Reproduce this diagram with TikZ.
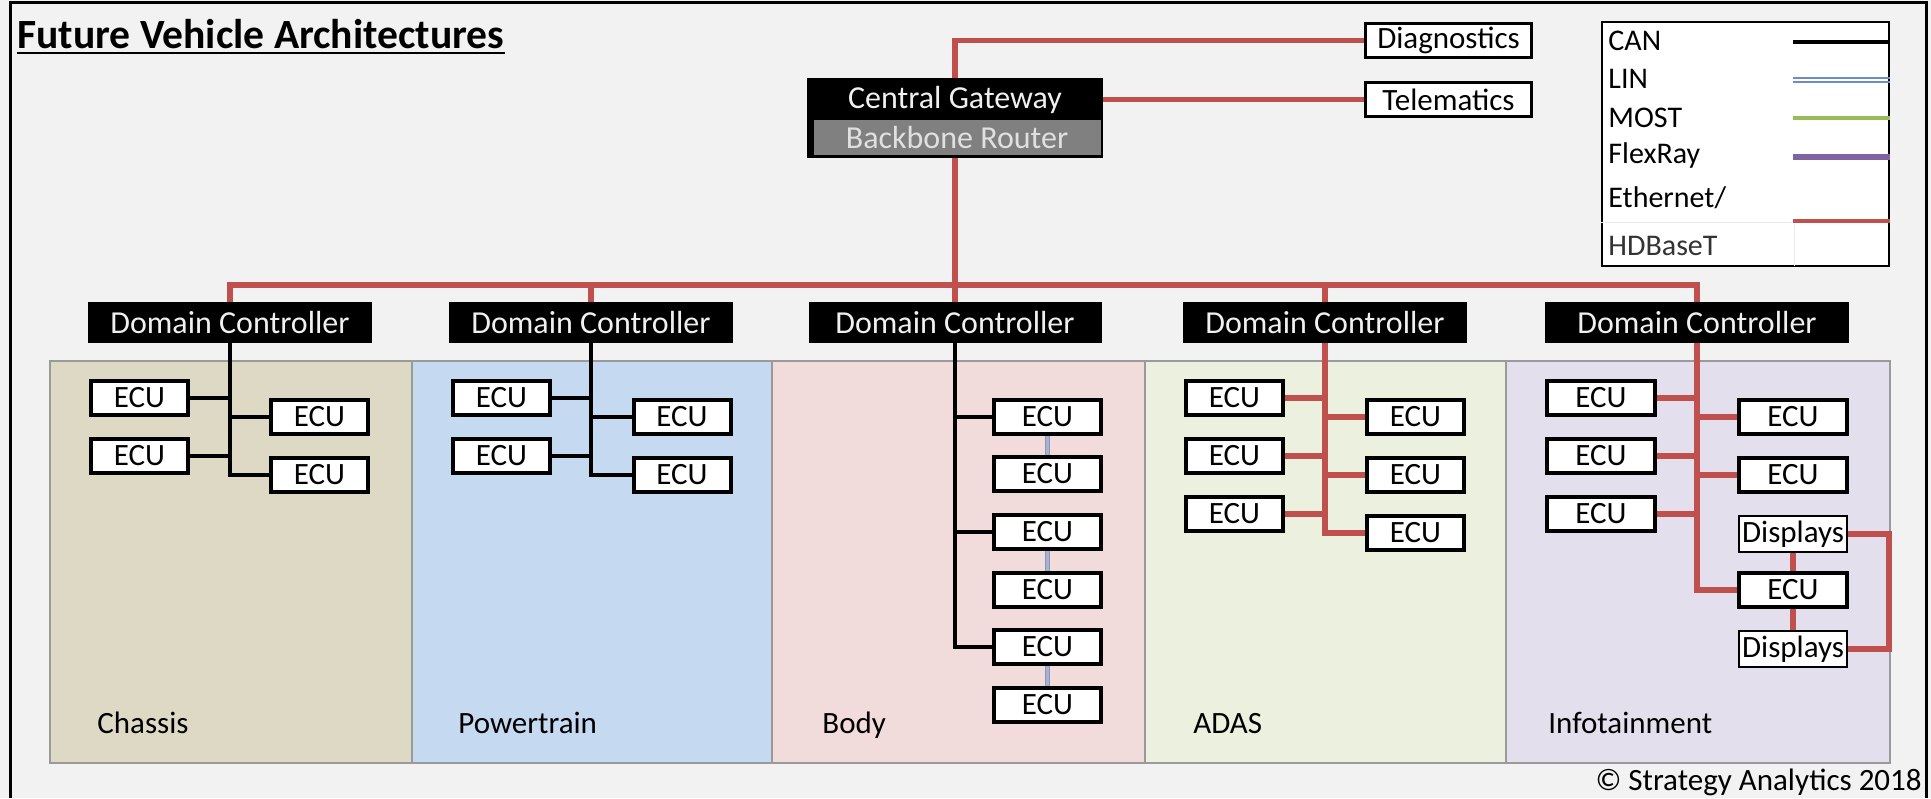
\documentclass[tikz,border=0pt]{standalone}
\usepackage{fontspec}
\setmainfont{Carlito}
\definecolor{sheet}{HTML}{F2F2F2}
\definecolor{ethred}{HTML}{C0504D}
\definecolor{mostgreen}{HTML}{9BBB59}
\definecolor{frpurple}{HTML}{8064A2}
\definecolor{linblue}{HTML}{6F8BBF}
\definecolor{linband}{HTML}{A7B2D2}
\definecolor{panelline}{HTML}{9A9A9A}
\definecolor{chassiscol}{HTML}{DDD9C4}
\definecolor{ptcol}{HTML}{C5D9F1}
\definecolor{bodycol}{HTML}{F2DCDB}
\definecolor{adascol}{HTML}{EBF1DE}
\definecolor{infocol}{HTML}{E4DFEC}
\definecolor{routergrey}{HTML}{808080}
\pgfdeclarelayer{sheetlayer}
\pgfdeclarelayer{panels}
\pgfdeclarelayer{wires}
\pgfsetlayers{sheetlayer,panels,wires,main}
\begin{document}
\begin{tikzpicture}[x=0.5pt,y=-0.5pt,
  txt/.style={font=\fontsize{15.5}{18}\selectfont},
  bigtxt/.style={font=\fontsize{16}{19}\selectfont},
  ecu/.style={txt, draw=black, line width=2pt, fill=white, minimum width=48.5pt, minimum height=17pt, inner sep=0pt},
  ecuw/.style={ecu, minimum width=54pt},
  disp/.style={txt, draw=black, line width=1.2pt, fill=white, minimum width=54pt, minimum height=17.8pt, inner sep=0pt},
  dom/.style={bigtxt, fill=black, text=white!94!black, minimum width=142pt, minimum height=20.5pt, inner sep=0pt},
  extbox/.style={txt, draw=black, line width=1.5pt, fill=white, minimum width=83pt, minimum height=17pt, inner sep=0pt},
  panel/.style={draw=panelline, line width=1pt},
  can/.style={draw=black, line width=1.6pt},
  eth/.style={draw=ethred, line width=2.6pt},
  lin/.style={draw=linband!85!black, line width=0.6pt, double=linband, double distance=1.4pt},
  lbl/.style={txt, anchor=base west, inner sep=0pt},
  legtxt/.style={txt, anchor=base west, inner sep=0pt, font=\fontsize{15}{18}\selectfont}]

\useasboundingbox (0,0) rectangle (1931,798);
\begin{pgfonlayer}{sheetlayer}
  \fill[sheet] (0,0) rectangle (1931,798);
\end{pgfonlayer}
\draw[line width=1.5pt] (10,798) -- (10,2) -- (1926,2) -- (1926,798);

% title
\node[anchor=base west, inner sep=0pt, font=\fontsize{20.8}{24}\selectfont\bfseries] (title) at (17,48) {Future Vehicle Architectures};
\draw[line width=1pt] ([yshift=-2.5pt]title.base west) -- ([yshift=-2.5pt]title.base east);

% domain panels
\begin{pgfonlayer}{panels}
  \filldraw[panel, fill=chassiscol] (50,361) rectangle (412,763);
  \filldraw[panel, fill=ptcol] (412,361) rectangle (772,763);
  \filldraw[panel, fill=bodycol] (772,361) rectangle (1145,763);
  \filldraw[panel, fill=adascol] (1145,361) rectangle (1506,763);
  \filldraw[panel, fill=infocol] (1506,361) rectangle (1890,763);
\end{pgfonlayer}
\node[lbl] (lchassis) at (97,733) {Chassis};
\node[lbl] (lpt) at (458,733) {Powertrain};
\node[lbl] (lbody) at (822,733) {Body};
\node[lbl] (ladas) at (1193,733) {ADAS};
\node[lbl] (linfo) at (1548,733) {Infotainment};

% gateway and external units
\node[fill=black, minimum width=148pt, minimum height=40pt, inner sep=0pt] (gw) at (955,118) {};
\node[bigtxt, fill=routergrey, text=white!88!black, minimum width=143.5pt, minimum height=17.5pt, inner sep=0pt] (router) at (957,137.5) {Backbone Router};
\node[bigtxt, text=white!94!black, inner sep=0pt] (gwname) at (955,100) {Central Gateway};
\node[extbox] (diag) at (1448.5,40.5) {Diagnostics};
\node[extbox] (tele) at (1448.5,99.5) {Telematics};

% domain controllers
\node[dom] (dc1) at (230,322.5) {Domain Controller};
\node[dom] (dc2) at (591,322.5) {Domain Controller};
\node[dom, minimum width=146.5pt] (dc3) at (955,322.5) {Domain Controller};
\node[dom] (dc4) at (1325,322.5) {Domain Controller};
\node[dom, minimum width=152pt] (dc5) at (1697,322.5) {Domain Controller};
\coordinate (bus) at (955,285);

% chassis
\node[ecu] (ch1) at (139.5,398) {ECU};
\node[ecu] (ch2) at (139.5,456) {ECU};
\node[ecu] (ch3) at (319.5,417) {ECU};
\node[ecu] (ch4) at (319.5,475) {ECU};
% powertrain
\node[ecu] (pt1) at (501.5,398) {ECU};
\node[ecu] (pt2) at (501.5,456) {ECU};
\node[ecu] (pt3) at (682,417) {ECU};
\node[ecu] (pt4) at (682,475) {ECU};
% body
\node[ecu, minimum width=53.5pt] (bd1) at (1047.5,417) {ECU};
\node[ecu, minimum width=53.5pt] (bd2) at (1047.5,474) {ECU};
\node[ecu, minimum width=53.5pt] (bd3) at (1047.5,532) {ECU};
\node[ecu, minimum width=53.5pt] (bd4) at (1047.5,590) {ECU};
\node[ecu, minimum width=53.5pt] (bd5) at (1047.5,647) {ECU};
\node[ecu, minimum width=53.5pt] (bd6) at (1047.5,705) {ECU};
% adas
\node[ecu] (ad1) at (1234.5,398) {ECU};
\node[ecu] (ad2) at (1234.5,456) {ECU};
\node[ecu] (ad3) at (1234.5,514) {ECU};
\node[ecu] (ad4) at (1415.5,417) {ECU};
\node[ecu] (ad5) at (1415.5,475) {ECU};
\node[ecu] (ad6) at (1415.5,533) {ECU};
% infotainment
\node[ecuw] (in1) at (1601,398) {ECU};
\node[ecuw] (in2) at (1601,456) {ECU};
\node[ecuw] (in3) at (1601,514) {ECU};
\node[ecuw] (in4) at (1793,417) {ECU};
\node[ecuw] (in5) at (1793,475) {ECU};
\node[disp] (dsp1) at (1793,534) {Displays};
\node[ecuw] (in6) at (1793,590) {ECU};
\node[disp] (dsp2) at (1793,649) {Displays};
\coordinate (loop) at (1889,590);

\begin{pgfonlayer}{wires}
  % backbone
  \draw[eth] (gw.north) |- (diag.west);
  \draw[eth] (gw.east |- tele.west) -- (tele.west);
  \draw[eth] (gw.south) -- (dc3.north);
  \draw[eth] (dc1.north) -- (dc1.north |- bus) -- (dc5.north |- bus) -- (dc5.north);
  \draw[eth] (dc2.north) -- (dc2.north |- bus);
  \draw[eth] (dc4.north) -- (dc4.north |- bus);
  % chassis
  \draw[can] (dc1.south) |- (ch4.west);
  \draw[can] (ch1.east) -- (ch1.east -| dc1.south);
  \draw[can] (ch2.east) -- (ch2.east -| dc1.south);
  \draw[can] (ch3.west) -- (ch3.west -| dc1.south);
  % powertrain
  \draw[can] (dc2.south) |- (pt4.west);
  \draw[can] (pt1.east) -- (pt1.east -| dc2.south);
  \draw[can] (pt2.east) -- (pt2.east -| dc2.south);
  \draw[can] (pt3.west) -- (pt3.west -| dc2.south);
  % body
  \draw[can] (dc3.south) |- (bd5.west);
  \draw[can] (bd1.west) -- (bd1.west -| dc3.south);
  \draw[can] (bd3.west) -- (bd3.west -| dc3.south);
  \draw[lin] (bd1.south) -- (bd2.north);
  \draw[lin] (bd3.south) -- (bd4.north);
  \draw[lin] (bd5.south) -- (bd6.north);
  % adas
  \draw[eth] (dc4.south) |- (ad6.west);
  \draw[eth] (ad1.east) -- (ad1.east -| dc4.south);
  \draw[eth] (ad2.east) -- (ad2.east -| dc4.south);
  \draw[eth] (ad3.east) -- (ad3.east -| dc4.south);
  \draw[eth] (ad4.west) -- (ad4.west -| dc4.south);
  \draw[eth] (ad5.west) -- (ad5.west -| dc4.south);
  % infotainment
  \draw[eth] (dc5.south) |- (in6.west);
  \draw[eth] (in1.east) -- (in1.east -| dc5.south);
  \draw[eth] (in2.east) -- (in2.east -| dc5.south);
  \draw[eth] (in3.east) -- (in3.east -| dc5.south);
  \draw[eth] (in4.west) -- (in4.west -| dc5.south);
  \draw[eth] (in5.west) -- (in5.west -| dc5.south);
  \draw[eth] (dsp1.south) -- (in6.north);
  \draw[eth] (in6.south) -- (dsp2.north);
  \draw[eth] (dsp1.east) -- (dsp1.east -| loop) -- (dsp2.east -| loop) -- (dsp2.east);
\end{pgfonlayer}

% legend
\node[draw=black, line width=1pt, fill=white, minimum width=143.5pt, minimum height=122pt, inner sep=0pt] (legend) at (1745.5,144) {};
\draw[black!8, line width=0.5pt] (legend.west |- 0,222) -- (1794,222) -- (1794,266);
\node[legtxt] (kcan) at (1608,50) {CAN};
\node[legtxt] (klin) at (1608,88) {LIN};
\node[legtxt] (kmost) at (1608,127) {MOST};
\node[legtxt] (kfr) at (1608,163) {FlexRay};
\node[legtxt] (keth) at (1608,207) {Ethernet/};
\node[legtxt, text=black!80] (khdb) at (1608,255) {HDBaseT};
\draw[can] (1793,42) -- (legend.east |- 0,42);
\draw[draw=linblue, line width=0.7pt] (1793,78) -- (legend.east |- 0,78);
\draw[draw=linblue, line width=0.7pt] (1793,82) -- (legend.east |- 0,82);
\draw[draw=mostgreen, line width=2pt] (1793,118) -- (legend.east |- 0,118);
\draw[draw=frpurple, line width=3pt] (1793,157) -- (legend.east |- 0,157);
\draw[draw=ethred, line width=2pt] (1793,221) -- (legend.east |- 0,221);

% credit line
\node[txt, anchor=base east, inner sep=0pt] (credit) at (1922,790) {© Strategy Analytics 2018};
\end{tikzpicture}
\end{document}
